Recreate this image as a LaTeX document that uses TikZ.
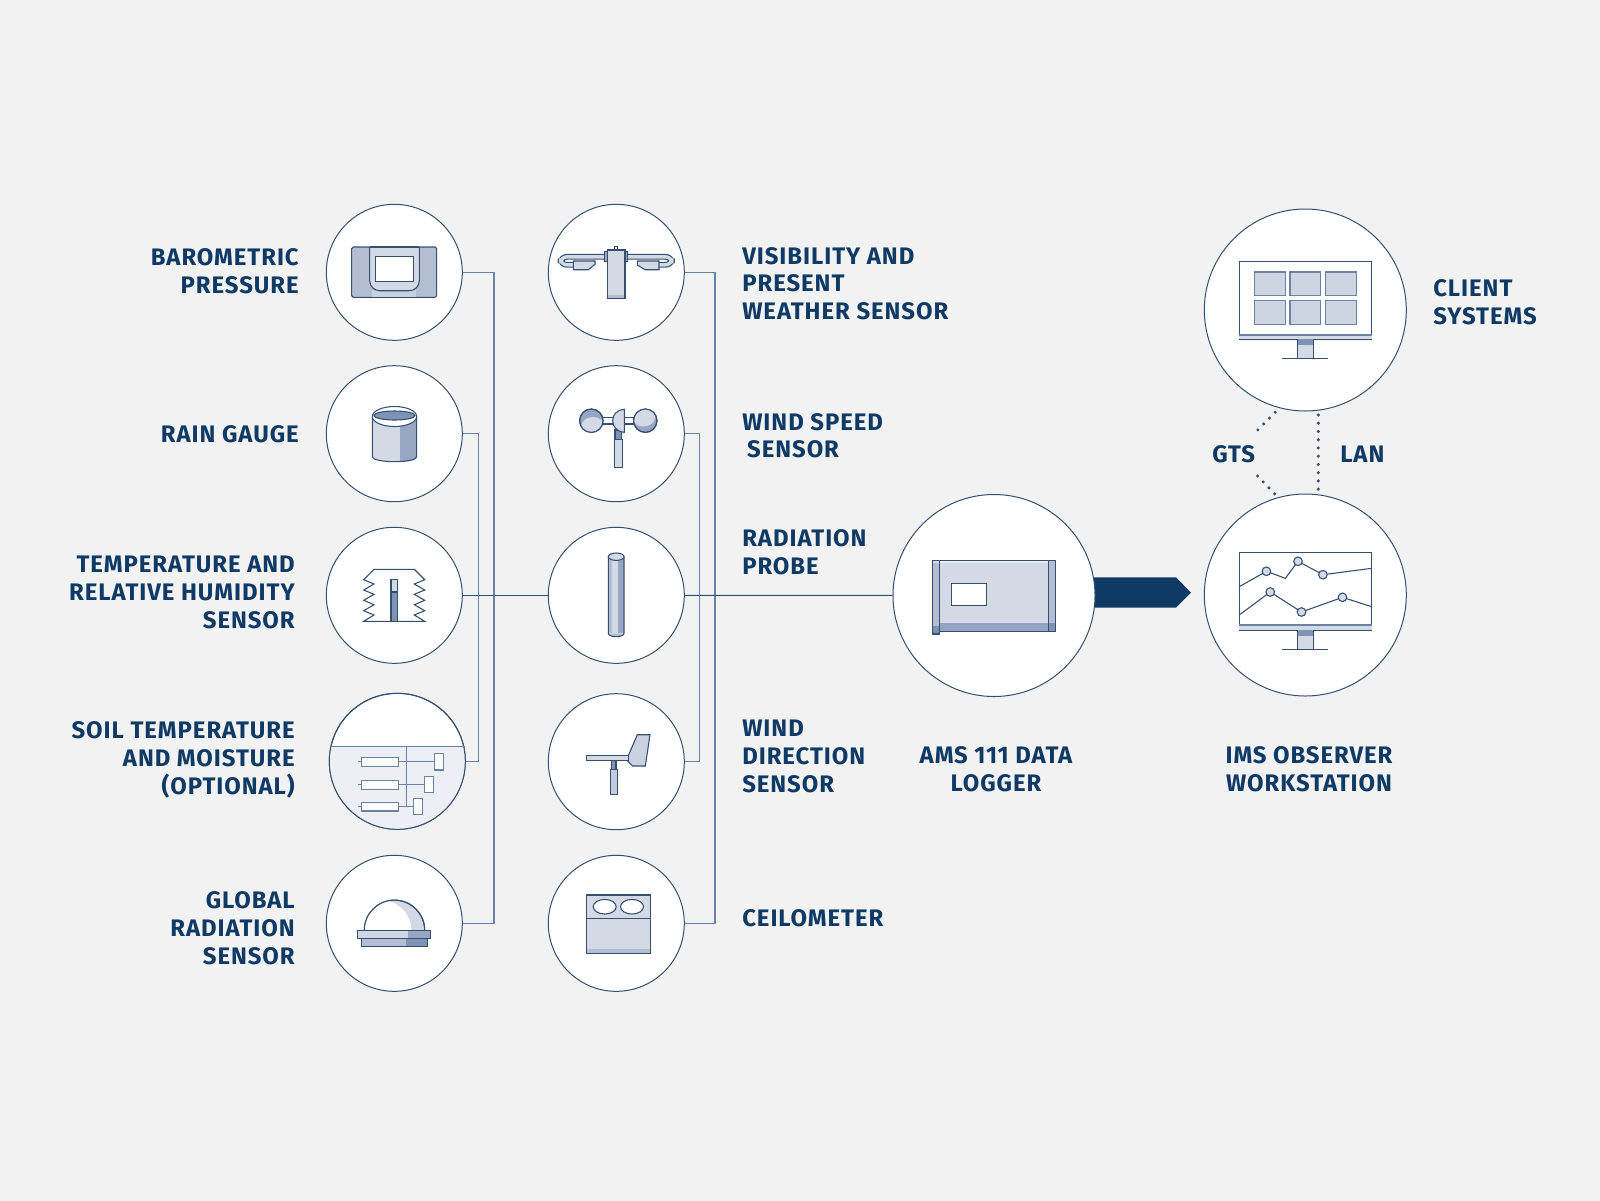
\documentclass[tikz,border=0pt]{standalone}
\usepackage{fontspec}
\setmainfont{Fira Sans}[LetterSpace=4]
\usetikzlibrary{backgrounds}
\definecolor{pagec}{HTML}{F2F2F2}
\definecolor{navy}{HTML}{0F3A66}
\definecolor{edgec}{HTML}{35506F}
\definecolor{busc}{HTML}{6A82A3}
\definecolor{palec}{HTML}{D3DAE6}
\definecolor{midc}{HTML}{B3BED3}
\definecolor{darkc}{HTML}{98A6C3}
\definecolor{deepc}{HTML}{7F93B6}
\definecolor{soilc}{HTML}{ECEFF5}
\tikzset{
  sensor/.style={circle,draw=edgec,fill=white,line width=.25mm,inner sep=0pt,minimum size=34mm},
  hub/.style={circle,draw=edgec,fill=white,line width=.25mm,inner sep=0pt,minimum size=50.5mm},
  lbl/.style={text=navy,inner sep=0pt,font=\bfseries\fontsize{17}{19.9}\selectfont},
  bus/.style={draw=busc,line width=.3mm},
  wire/.style={draw=edgec,line width=.25mm},
  ico/.style={draw=edgec,line width=.27mm},
  dots/.style={draw=edgec,line width=.85mm,line cap=round,dash pattern=on 0pt off 2.06mm}
}
\begin{document}
\begin{tikzpicture}[x=.25mm,y=-.25mm]
\useasboundingbox (0,0) rectangle (1600,1200);

% circles
\node[sensor] (s1) at (394.3,272.3) {};
\node[sensor] (s2) at (394.3,433.7) {};
\node[sensor] (s3) at (394.3,595.3) {};
\node[sensor] (s4) at (397.3,761.3) {};
\node[sensor] (s5) at (394.3,923.3) {};
\node[sensor] (s6) at (616.3,272.3) {};
\node[sensor] (s7) at (616.3,433.7) {};
\node[sensor] (s8) at (616.3,595.3) {};
\node[sensor] (s9) at (616.3,761.7) {};
\node[sensor] (s10) at (616.3,923.3) {};
\node[hub] (l) at (994,595.5) {};
\node[hub] (w) at (1305.3,595) {};
\node[hub] (c) at (1305.3,310) {};

\begin{scope}[on background layer]
\fill[pagec] (-10,-10) rectangle (1610,1210);
\coordinate (a1) at (1176,577.3);
\coordinate (a2) at (1191,592.7);
\coordinate (a3) at (1176,607.7);
\fill[navy] (l.center |- a1) -- (a1) -- (a2) -- (a3) -- (l.center |- a3) -- cycle;
\end{scope}

% connectors
\coordinate (b1) at (494,595.3);
\coordinate (b2) at (478.7,595.3);
\coordinate (b3) at (715,595.3);
\coordinate (b4) at (699.3,595.3);
\draw[bus] (s1.east) -| (b1) |- (s5.east);
\draw[bus] (s2.east) -| (b2) |- (s4.east);
\draw[bus] (s6.east) -| (b3) |- (s10.east);
\draw[bus] (s7.east) -| (b4) |- (s9.east);
\draw[wire] (s3) -- (s8);
\draw[wire] (s8) -- (l);

\coordinate (d1) at (1275.2,412.2);
\coordinate (d2) at (1257.5,430.2);
\coordinate (d3) at (1257.5,476);
\coordinate (d4) at (1275.5,494.7);
\coordinate (d5) at (1318.3,415);
\coordinate (d6) at (1318.3,493);
\draw[dots] (d1) -- (d2);
\draw[dots] (d3) -- (d4);
\draw[dots] (d5) -- (d6);

% labels
\node[lbl,anchor=east,align=right] (t1) at (299,271) {BAROMETRIC\\PRESSURE};
\node[lbl,anchor=east,align=right] (t2) at (299,434.7) {RAIN GAUGE};
\node[lbl,anchor=east,align=right] (t3) at (295,592) {TEMPERATURE AND\\RELATIVE HUMIDITY\\SENSOR};
\node[lbl,anchor=east,align=right] (t4) at (295,759.5) {SOIL TEMPERATURE\\AND MOISTURE\\(OPTIONAL)};
\node[lbl,anchor=east,align=right] (t5) at (295,928.6) {GLOBAL\\RADIATION\\SENSOR};
\node[lbl,anchor=west,align=left] (t6) at (742,283.7) {VISIBILITY AND\\PRESENT\\WEATHER SENSOR};
\node[lbl,anchor=west,align=left] (t7) at (742,435.7) {WIND SPEED\\\hspace{3.5pt}SENSOR};
\node[lbl,anchor=west,align=left] (t8) at (742,552) {RADIATION\\PROBE};
\node[lbl,anchor=west,align=left] (t9) at (742,756.5) {WIND\\DIRECTION\\SENSOR};
\node[lbl,anchor=west,align=left] (t10) at (742,918.4) {CEILOMETER};
\node[lbl,align=center] (t11) at (996,769) {AMS 111 DATA\\LOGGER};
\node[lbl,align=center] (t12) at (1309,769) {IMS OBSERVER\\WORKSTATION};
\node[lbl,anchor=west,align=left] (t13) at (1433,302) {CLIENT\\SYSTEMS};
\node[lbl] (t14) at (1233.7,454) {GTS};
\node[lbl] (t15) at (1362.3,454) {LAN};

% barometer
\draw[ico,fill=midc,rounded corners=.4mm] (351.7,247) rectangle (436.7,297.3);
\fill[palec!70!midc] (372,290) rectangle (416,296.8);
\draw[ico,fill=palec,rounded corners=2.5mm] (369.7,247) -- (369.7,290.7) -- (419.3,290.7) -- (419.3,247);
\draw[ico] (369.7,247) -- (419.3,247);
\draw[ico,fill=white] (375.3,256.3) rectangle (413.7,281.7);

% rain gauge
\fill[palec] (372.3,416.5) rectangle (400,456.7);
\fill[palec] (372.3,456.7) -- (400,456.7) -- (400,461.7) .. controls (385,461.7) and (372.3,460) .. (372.3,456.7);
\fill[darkc] (400,416.5) rectangle (416.7,456.7);
\fill[darkc] (416.7,456.7) -- (400,456.7) -- (400,461.7) .. controls (410,461.5) and (416.7,460) .. (416.7,456.7);
\draw[ico] (372.3,416.5) -- (372.3,456.7) .. controls (372.3,463.3) and (416.7,463.3) .. (416.7,456.7) -- (416.7,416.5);
\draw[ico,fill=white] (394.5,416.5) circle[x radius=22.2,y radius=10];
\draw[ico,fill=deepc] (394.5,415.5) circle[x radius=20.5,y radius=4.5];

% temperature shield
\draw[ico] (374,569.3) -- (414.3,569.3) -- (424.7,579.7) -- (414.3,584) -- (424.7,590) -- (414.3,594.3) -- (424.7,600.3) -- (414.3,604.7) -- (424.7,610.7) -- (414.3,615) -- (424.7,621.3) -- (363.7,621.3) -- (374,615) -- (363.7,610.7) -- (374,604.7) -- (363.7,600.3) -- (374,594.3) -- (363.7,590) -- (374,584) -- (363.7,579.7) -- cycle;
\draw[ico,fill=palec] (391,579.7) rectangle (397.5,592);
\draw[ico,fill=deepc] (391,592) rectangle (397.5,621.3);

% soil sensors
\begin{scope}
\clip (s4) circle (68);
\fill[soilc] (320,746.7) rectangle (470,840);
\end{scope}
\draw[edgec,line width=.25mm] (s4) circle (68);
\coordinate (g1) at (329.6,746.7);
\coordinate (g2) at (465,746.7);
\draw[bus] (g1) -- (g2);
\draw[bus] (406.3,746.7) -- (406.3,806.3);
\draw[bus] (357.7,761.7) -- (434.7,761.7);
\draw[bus] (357.7,784.7) -- (424.3,784.7);
\draw[bus] (357.7,806.3) -- (413.7,806.3);
\draw[bus,fill=white] (361.3,757.3) rectangle (398.7,766.3);
\draw[bus,fill=white] (361.3,780.3) rectangle (398.7,789.3);
\draw[bus,fill=white] (361.3,802.3) rectangle (398.7,811);
\draw[bus,fill=white] (434.7,753.7) rectangle (443.7,770);
\draw[bus,fill=white] (424.3,776.7) rectangle (433.3,792.7);
\draw[bus,fill=white] (413.7,798.3) rectangle (422.7,814.7);

% global radiation
\draw[ico,fill=palec] (364.3,930.3) arc[start angle=180,end angle=360,radius=30.2];
\begin{scope}
\clip (364.3,930.3) arc[start angle=180,end angle=360,radius=30.2] -- cycle;
\fill[white] (380.5,931) circle (31);
\end{scope}
\draw[ico] (364.3,930.3) arc[start angle=180,end angle=360,radius=30.2];
\fill[palec!90!midc] (357.7,930.3) rectangle (408.3,938.3);
\fill[darkc] (408.3,930.3) rectangle (430.7,938.3);
\draw[ico] (357.7,930.3) rectangle (430.7,938.3);
\fill[midc] (361.3,938.3) rectangle (406,946.7);
\fill[deepc] (406,938.3) rectangle (427.3,946.7);
\draw[ico] (361.3,938.3) rectangle (427.3,946.7);

% visibility sensor
\draw[edgec,line width=1.45mm,rounded corners=1.6mm] (605,256.8) -- (560.5,256.8) -- (560.5,264.8) -- (574,264.8);
\draw[edgec,line width=1.45mm,rounded corners=1.6mm] (627,256.8) -- (672,256.8) -- (672,264.8) -- (658,264.8);
\draw[palec,line width=.85mm,rounded corners=1.6mm] (605,256.8) -- (560.5,256.8) -- (560.5,264.8) -- (574,264.8);
\draw[palec,line width=.85mm,rounded corners=1.6mm] (627,256.8) -- (672,256.8) -- (672,264.8) -- (658,264.8);
\draw[ico,fill=palec] (573.3,261) -- (595,261) -- (595,264.3) -- (588.3,269.7) -- (573.3,269.7) -- cycle;
\draw[ico,fill=palec] (637.3,261) -- (659,261) -- (659,269.7) -- (645,269.7) -- (637.3,265) -- cycle;
\draw[ico,fill=darkc] (604.3,251.7) rectangle (607.3,261.7);
\draw[ico,fill=darkc] (625,251.7) rectangle (627.7,261.7);
\draw[ico,fill=white] (614.3,246.7) rectangle (617.7,250);
\fill[palec] (607.3,250) rectangle (625,295);
\fill[midc] (607.3,295) rectangle (625,298.3);
\draw[ico] (607.3,250) rectangle (625,298.3);

% anemometer
\draw[ico,fill=white] (602.7,417.3) rectangle (633.7,424);
\draw[ico,fill=deepc] (615,430) rectangle (621.3,439.3);
\draw[ico,fill=palec] (614.3,439.3) rectangle (622.3,467.3);
\draw[ico,fill=darkc] (591.3,420.7) circle (11.7);
\begin{scope}
\clip (591.3,420.7) circle (11.7);
\fill[palec] (593,426) circle[x radius=11.5,y radius=9];
\end{scope}
\draw[ico] (591.3,420.7) circle (11.7);
\draw[ico,fill=darkc] (645.3,420.7) circle (11.7);
\begin{scope}
\clip (645.3,420.7) circle (11.7);
\fill[palec] (643.5,417) circle[x radius=11.5,y radius=9.5];
\end{scope}
\draw[ico] (645.3,420.7) circle (11.7);
\draw[ico,fill=palec] (624.3,409.3) .. controls (616,410) and (612.7,415) .. (612.7,420.7) .. controls (612.7,426) and (616,431.5) .. (624.3,432.3) -- cycle;

% radiation probe
\fill[midc] (608.3,556.7) rectangle (612,633.3);
\fill[palec] (612,556.7) rectangle (618,633.3);
\fill[darkc] (618,556.7) rectangle (624,633.3);
\fill[midc] (608.3,633.3) -- (624,633.3) .. controls (624,637.8) and (608.3,637.8) .. (608.3,633.3);
\draw[ico] (608.3,556.7) -- (608.3,633.3) .. controls (608.3,637.8) and (624,637.8) .. (624,633.3) -- (624,556.7);
\draw[ico,fill=palec] (616.2,556.7) circle[x radius=7.9,y radius=3.7];

% wind vane
\draw[ico,fill=palec!70!midc] (628.3,755.7) -- (637.3,734.7) -- (650,734.7) -- (645.3,766) -- (632.7,766) -- (627.3,760.7) -- cycle;
\draw[ico,fill=palec] (586.3,755.7) rectangle (628.3,760.7);
\draw[ico,fill=deepc] (611.3,760.7) rectangle (616,769.3);
\draw[ico,fill=palec!50!midc] (610.3,769.3) rectangle (617.3,794.7);

% ceilometer
\fill[palec] (586.7,895) rectangle (650.7,953.7);
\fill[midc] (586.7,949.3) rectangle (650.7,953.7);
\draw[ico] (586.7,895) rectangle (650.7,953.7);
\draw[ico] (586.7,918.3) -- (650.7,918.3);
\draw[ico,fill=white] (604.7,906.7) circle[x radius=11.5,y radius=7.3];
\draw[ico,fill=white] (632,906.7) circle[x radius=11.5,y radius=7.3];

% data logger
\fill[palec] (936,560.3) rectangle (1052,631.3);
\fill[palec!50!white] (936,560.3) rectangle (1052,563.3);
\fill[darkc!85!deepc] (936,623.3) rectangle (1052,631.3);
\draw[ico] (936,560.3) rectangle (1052,631.3);
\fill[midc] (932.3,560.3) rectangle (939.6,626);
\fill[palec] (932.3,560.3) rectangle (939.6,563.3);
\fill[deepc] (932.3,626) rectangle (939.6,634);
\draw[ico] (932.3,560.3) rectangle (939.6,634);
\fill[midc] (1048.4,560.3) rectangle (1055.6,623.3);
\fill[deepc] (1048.4,623.3) rectangle (1055.6,631.3);
\draw[ico] (1048.4,560.3) rectangle (1055.6,631.3);
\draw[ico,fill=white] (951.3,583.3) rectangle (986.7,605.7);

% workstation monitor
\draw[ico,fill=white] (1239.2,552.3) rectangle (1371.7,630.3);
\fill[palec] (1239.2,625) rectangle (1371.7,630.3);
\draw[bus] (1239.2,625) -- (1371.7,625);
\draw[ico] (1239.2,630.3) -- (1371.7,630.3);
\fill[palec] (1297.4,630.3) rectangle (1313.2,649.3);
\fill[deepc] (1297.4,630.3) rectangle (1313.2,636);
\draw[ico] (1297.4,630.3) -- (1297.4,649.3);
\draw[ico] (1313.2,630.3) -- (1313.2,649.3);
\draw[ico] (1282.2,649.3) -- (1328,649.3);
\draw[ico] (1239.2,586.7) -- (1266.4,571.3) -- (1285.3,578.3) -- (1298,561.3) -- (1322.9,574.7) -- (1371.7,568.3);
\draw[ico] (1239.2,615) -- (1270.2,592) -- (1301.5,612) -- (1342.5,597.3) -- (1371.7,606.7);
\foreach \p in {(1266.4,571.3),(1298,561.3),(1322.9,574.7),(1270.2,592),(1301.5,612),(1342.5,597.3)}
  \draw[ico,fill=palec] \p circle (4.3);

% client monitor
\draw[ico,fill=white] (1239.3,261.3) rectangle (1371.7,339.3);
\fill[palec] (1239.3,335) rectangle (1371.7,339.3);
\draw[bus] (1239.3,335) -- (1371.7,335);
\draw[ico] (1239.3,339.3) -- (1371.7,339.3);
\fill[palec] (1297.3,339.3) rectangle (1313.7,358.3);
\fill[deepc] (1297.3,339.3) rectangle (1313.7,345.3);
\draw[ico] (1297.3,339.3) -- (1297.3,358.3);
\draw[ico] (1313.7,339.3) -- (1313.7,358.3);
\draw[ico] (1282.3,358.3) -- (1328,358.3);
\foreach \x in {1254.3,1290,1325.7}
  \foreach \y in {272,300.7}
    \draw[bus,fill=palec!80!midc] (\x,\y) rectangle ++(30.8,23.5);
\end{tikzpicture}
\end{document}
